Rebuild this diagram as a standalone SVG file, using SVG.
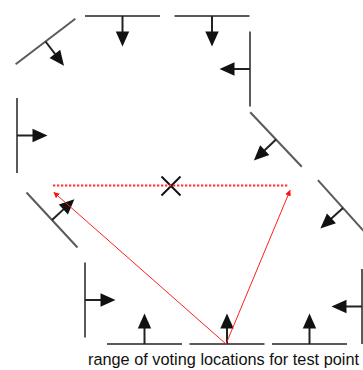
<svg xmlns="http://www.w3.org/2000/svg" xmlns:xlink="http://www.w3.org/1999/xlink" width="363" height="370" viewBox="0 0 363 370">
<style>
.wall{stroke:#5a5a5a;stroke-width:2;fill:none}
.stem{stroke:#222;stroke-width:2;fill:none}
.head{fill:#111;stroke:none}
.ray{stroke:#ff2020;stroke-width:1;fill:none}
.dots{stroke:#ff3030;stroke-width:2;stroke-dasharray:2.3,1.7;fill:none}
.cross{stroke:#111;stroke-width:2;fill:none}
.label{font-family:"Liberation Sans",Arial,sans-serif;font-size:16.3px;fill:#111}
</style>
<defs>
<g id="fence">
<line class="wall" x1="-37.5" y1="0" x2="37.5" y2="0"/>
<line class="stem" x1="0" y1="0" x2="0" y2="16"/>
<polygon class="head" points="-6.7,15.5 6.7,15.5 0,30.5"/>
</g>
<marker id="redhead" viewBox="0 0 8 8" refX="7" refY="4" markerWidth="6" markerHeight="6" markerUnits="userSpaceOnUse" orient="auto">
<path d="M0,0 L8,4 L0,8 z" fill="#ff1010"/>
</marker>
</defs>
<g id="n1"><use xlink:href="#fence" href="#fence" transform="translate(45.5,41.5) rotate(-37.3)"/></g>
<g id="n2"><use xlink:href="#fence" href="#fence" transform="translate(122.5,16)"/></g>
<g id="n3"><use xlink:href="#fence" href="#fence" transform="translate(212,16)"/></g>
<g id="n4"><use xlink:href="#fence" href="#fence" transform="translate(250,69) rotate(90)"/></g>
<g id="n5"><use xlink:href="#fence" href="#fence" transform="translate(276,139.5) rotate(46.6)"/></g>
<g id="n6"><use xlink:href="#fence" href="#fence" transform="translate(17,135.5) rotate(-90)"/></g>
<g id="n7"><use xlink:href="#fence" href="#fence" transform="translate(52,220) rotate(-132.8)"/></g>
<g id="n8"><use xlink:href="#fence" href="#fence" transform="translate(343,208) rotate(48)"/></g>
<g id="n9"><use xlink:href="#fence" href="#fence" transform="translate(85,300) rotate(-90)"/></g>
<g id="n10"><use xlink:href="#fence" href="#fence" transform="translate(144.5,344) rotate(180)"/></g>
<g id="n11"><use xlink:href="#fence" href="#fence" transform="translate(227,344) rotate(180)"/></g>
<g id="n12"><use xlink:href="#fence" href="#fence" transform="translate(309.5,344) rotate(180)"/></g>
<g id="n13"><use xlink:href="#fence" href="#fence" transform="translate(362,306.5) rotate(90)"/></g>
<g id="testpoint">
<line class="cross" x1="161.5" y1="176.5" x2="180.5" y2="195.5"/>
<line class="cross" x1="161.5" y1="195.5" x2="180.5" y2="176.5"/>
</g>
<g id="connectors">
<line class="dots" x1="53" y1="185.5" x2="289" y2="185.5"/>
<line class="ray" x1="226" y1="344" x2="54" y2="192.5" marker-end="url(#redhead)"/>
<line class="ray" x1="226" y1="344" x2="290" y2="190.5" marker-end="url(#redhead)"/>
</g>
<text class="label" x="88" y="365" textLength="271" lengthAdjust="spacing">range of voting locations for test point</text>
</svg>
